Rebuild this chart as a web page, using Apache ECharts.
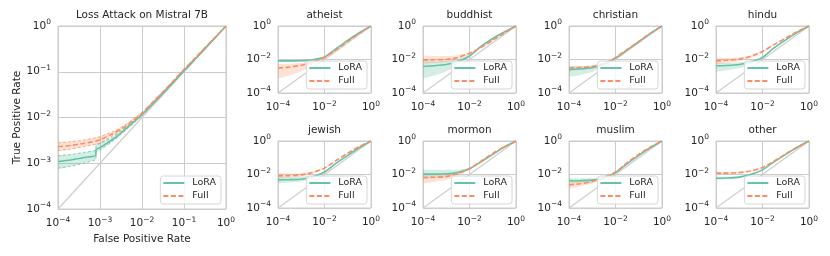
<!DOCTYPE html>
<html><head><meta charset="utf-8">
<script src="https://cdn.jsdelivr.net/npm/echarts@6/dist/echarts.min.js"></script>
<style>html,body{margin:0;padding:0;background:#fff}#c{width:830px;height:256px}</style>
</head><body><div id="c"></div><script>
// ---------------- data ----------------
const seriesNames = ['LoRA', 'Full'];
const mainTitle = 'Loss Attack on Mistral 7B';
const panelTitles = ['atheist', 'buddhist', 'christian', 'hindu', 'jewish', 'mormon', 'muslim', 'other'];
const diagPoints = [1e-4, 1];

const mainFpr      = [1e-4, 2e-4, 4e-4, 8e-4, 8e-4, 1e-3, 2e-3, 3e-3, 5e-3, 1e-2, 2e-2, 5e-2, 1e-1, 2e-1, 5e-1, 1];
const mainLoraTpr  = [1.09e-3, 1.18e-3, 1.32e-3, 1.5e-3, 2.0e-3, 2.2e-3, 3.3e-3, 4.4e-3, 6.6e-3, 1.15e-2, 2.2e-2, 5.3e-2, 0.105, 0.205, 0.5, 1];
const mainLoraLo   = [7.8e-4, 8.6e-4, 1.0e-3, 1.23e-3, 1.75e-3, 1.95e-3, 3.0e-3, 4.1e-3, 6.2e-3, 1.1e-2, 2.1e-2, 5.1e-2, 0.1, 0.198, 0.49, 1];
const mainLoraHi   = [1.45e-3, 1.55e-3, 1.72e-3, 1.95e-3, 2.5e-3, 2.7e-3, 3.7e-3, 4.8e-3, 7.0e-3, 1.2e-2, 2.3e-2, 5.5e-2, 0.11, 0.212, 0.51, 1];
const mainFullTpr  = [2.3e-3, 2.45e-3, 2.7e-3, 3.05e-3, 3.05e-3, 3.25e-3, 4.4e-3, 5.4e-3, 7.4e-3, 1.25e-2, 2.35e-2, 5.6e-2, 0.112, 0.215, 0.52, 1];
const mainFullLo   = [1.9e-3, 2.05e-3, 2.3e-3, 2.6e-3, 2.6e-3, 2.75e-3, 4.0e-3, 5.0e-3, 7.0e-3, 1.2e-2, 2.27e-2, 5.4e-2, 0.108, 0.21, 0.51, 1];
const mainFullHi   = [2.8e-3, 2.95e-3, 3.2e-3, 3.6e-3, 3.6e-3, 3.8e-3, 4.9e-3, 5.9e-3, 7.9e-3, 1.3e-2, 2.45e-2, 5.8e-2, 0.116, 0.22, 0.53, 1];

const smallFpr = [1e-4, 3e-4, 1e-3, 3e-3, 1e-2, 3e-2, 1e-1, 3e-1, 1];

const atheistLora   = [8.3e-3, 8.3e-3, 8.5e-3, 9.5e-3, 1.4e-2, 4.2e-2, 0.14, 0.38, 1];
const atheistLoraLo = [7.3e-3, 7.4e-3, 7.6e-3, 8.6e-3, 1.3e-2, 3.9e-2, 0.13, 0.36, 1];
const atheistLoraHi = [9.4e-3, 9.4e-3, 9.6e-3, 1.05e-2, 1.55e-2, 4.5e-2, 0.15, 0.4, 1];
const atheistFull   = [3.1e-3, 3.5e-3, 4.5e-3, 7e-3, 1.35e-2, 3.6e-2, 0.12, 0.35, 1];
const atheistFullLo = [8e-4, 1.1e-3, 2.0e-3, 4.5e-3, 1.1e-2, 3.3e-2, 0.11, 0.33, 1];
const atheistFullHi = [5e-3, 5.4e-3, 6.3e-3, 8.8e-3, 1.6e-2, 3.9e-2, 0.13, 0.37, 1];

const buddhistLora   = [3.8e-3, 4.2e-3, 5.0e-3, 7.5e-3, 1.6e-2, 5.8e-2, 0.18, 0.42, 1];
const buddhistLoraLo = [8e-4, 1.1e-3, 1.9e-3, 4.5e-3, 1.3e-2, 5.2e-2, 0.17, 0.40, 1];
const buddhistLoraHi = [7.6e-3, 7.8e-3, 8.5e-3, 1.05e-2, 1.9e-2, 6.4e-2, 0.19, 0.44, 1];
const buddhistFull   = [9.5e-3, 9.6e-3, 1.0e-2, 1.3e-2, 2.3e-2, 5.0e-2, 0.14, 0.37, 1];
const buddhistFullLo = [6e-3, 6.2e-3, 6.8e-3, 9.5e-3, 1.9e-2, 4.6e-2, 0.13, 0.35, 1];
const buddhistFullHi = [1.6e-2, 1.6e-2, 1.6e-2, 1.8e-2, 2.7e-2, 5.4e-2, 0.15, 0.39, 1];

const christianLora   = [2.5e-3, 2.7e-3, 3.2e-3, 5e-3, 1.2e-2, 3.5e-2, 0.115, 0.34, 1];
const christianLoraLo = [1.0e-3, 1.2e-3, 1.8e-3, 3.8e-3, 1.1e-2, 3.3e-2, 0.11, 0.33, 1];
const christianLoraHi = [3.8e-3, 4.0e-3, 4.4e-3, 6e-3, 1.3e-2, 3.7e-2, 0.12, 0.35, 1];
const christianFull   = [3.1e-3, 3.3e-3, 3.8e-3, 5.5e-3, 1.3e-2, 3.8e-2, 0.12, 0.35, 1];
const christianFullLo = [2.6e-3, 2.8e-3, 3.3e-3, 5e-3, 1.2e-2, 3.6e-2, 0.115, 0.34, 1];
const christianFullHi = [3.7e-3, 3.9e-3, 4.4e-3, 6.1e-3, 1.4e-2, 4e-2, 0.125, 0.36, 1];

const hinduLora   = [4.2e-3, 4.4e-3, 5.0e-3, 7e-3, 1.3e-2, 4.8e-2, 0.15, 0.4, 1];
const hinduLoraLo = [2e-3, 2.3e-3, 3.0e-3, 5.2e-3, 1.15e-2, 4.4e-2, 0.14, 0.38, 1];
const hinduLoraHi = [6e-3, 6.2e-3, 6.8e-3, 8.5e-3, 1.5e-2, 5.2e-2, 0.16, 0.42, 1];
const hinduFull   = [8.3e-3, 9e-3, 1.05e-2, 1.5e-2, 3e-2, 7.5e-2, 0.19, 0.45, 1];
const hinduFullLo = [5.5e-3, 6.2e-3, 7.8e-3, 1.25e-2, 2.7e-2, 7e-2, 0.18, 0.43, 1];
const hinduFullHi = [1.2e-2, 1.25e-2, 1.35e-2, 1.75e-2, 3.3e-2, 8e-2, 0.2, 0.47, 1];

const jewishLora   = [4.8e-3, 4.9e-3, 5.2e-3, 7e-3, 1.4e-2, 4.5e-2, 0.14, 0.38, 1];
const jewishLoraLo = [3.1e-3, 3.3e-3, 3.8e-3, 5.8e-3, 1.25e-2, 4.2e-2, 0.13, 0.36, 1];
const jewishLoraHi = [7.2e-3, 7.2e-3, 7.4e-3, 8.6e-3, 1.6e-2, 4.8e-2, 0.15, 0.4, 1];
const jewishFull   = [8.3e-3, 8.6e-3, 9.5e-3, 1.3e-2, 2.4e-2, 6.5e-2, 0.19, 0.45, 1];
const jewishFullLo = [6.2e-3, 6.5e-3, 7.4e-3, 1.1e-2, 2.2e-2, 6.1e-2, 0.18, 0.43, 1];
const jewishFullHi = [1.15e-2, 1.15e-2, 1.2e-2, 1.5e-2, 2.6e-2, 6.9e-2, 0.2, 0.47, 1];

const mormonLora   = [1.05e-2, 1.05e-2, 1.1e-2, 1.3e-2, 2.2e-2, 5.5e-2, 0.16, 0.42, 1];
const mormonLoraLo = [6e-3, 6.3e-3, 7e-3, 1.0e-2, 2e-2, 5.2e-2, 0.15, 0.4, 1];
const mormonLoraHi = [1.9e-2, 1.9e-2, 1.9e-2, 1.9e-2, 2.5e-2, 5.8e-2, 0.17, 0.44, 1];
const mormonFull   = [6.6e-3, 6.8e-3, 7.5e-3, 1.1e-2, 2.2e-2, 6e-2, 0.18, 0.44, 1];
const mormonFullLo = [3.1e-3, 3.6e-3, 4.8e-3, 8.5e-3, 2e-2, 5.6e-2, 0.17, 0.42, 1];
const mormonFullHi = [1.05e-2, 1.05e-2, 1.1e-2, 1.35e-2, 2.4e-2, 6.4e-2, 0.19, 0.46, 1];

const muslimLora   = [4.2e-3, 4.3e-3, 4.6e-3, 6e-3, 1.3e-2, 4.2e-2, 0.14, 0.38, 1];
const muslimLoraLo = [3.1e-3, 3.2e-3, 3.6e-3, 5.2e-3, 1.2e-2, 4e-2, 0.13, 0.36, 1];
const muslimLoraHi = [6e-3, 6e-3, 6.2e-3, 7.2e-3, 1.4e-2, 4.4e-2, 0.15, 0.4, 1];
const muslimFull   = [2.4e-3, 2.8e-3, 3.8e-3, 6.5e-3, 1.4e-2, 4.8e-2, 0.16, 0.42, 1];
const muslimFullLo = [1.5e-3, 1.9e-3, 2.9e-3, 5.6e-3, 1.3e-2, 4.5e-2, 0.15, 0.4, 1];
const muslimFullHi = [3.8e-3, 4.0e-3, 4.8e-3, 7.4e-3, 1.5e-2, 5.1e-2, 0.17, 0.44, 1];

const otherLora   = [6e-3, 6.2e-3, 7e-3, 1e-2, 1.9e-2, 5.5e-2, 0.16, 0.41, 1];
const otherLoraLo = [5e-3, 5.2e-3, 6e-3, 9e-3, 1.75e-2, 5.2e-2, 0.15, 0.4, 1];
const otherLoraHi = [7.2e-3, 7.4e-3, 8e-3, 1.1e-2, 2.05e-2, 5.8e-2, 0.17, 0.42, 1];
const otherFull   = [1.2e-2, 1.2e-2, 1.3e-2, 1.6e-2, 2.6e-2, 6e-2, 0.17, 0.42, 1];
const otherFullLo = [1.05e-2, 1.05e-2, 1.15e-2, 1.45e-2, 2.4e-2, 5.7e-2, 0.16, 0.41, 1];
const otherFullHi = [1.4e-2, 1.4e-2, 1.45e-2, 1.75e-2, 2.8e-2, 6.3e-2, 0.18, 0.43, 1];

// ---------------- build ----------------
const GREEN = '#66c2a5', ORANGE = '#fc8d62', TXT = '#262626', FONT = 'DejaVu Sans';
const L = v => Math.log10(v);
const toPts = (fpr, tpr) => fpr.map((f, i) => [L(f), L(tpr[i])]);

const panels = [
  {title: mainTitle, fpr: mainFpr, lora: [mainLoraTpr, mainLoraLo, mainLoraHi], full: [mainFullTpr, mainFullLo, mainFullHi], main: true},
  {title: panelTitles[0], fpr: smallFpr, lora: [atheistLora, atheistLoraLo, atheistLoraHi], full: [atheistFull, atheistFullLo, atheistFullHi]},
  {title: panelTitles[1], fpr: smallFpr, lora: [buddhistLora, buddhistLoraLo, buddhistLoraHi], full: [buddhistFull, buddhistFullLo, buddhistFullHi]},
  {title: panelTitles[2], fpr: smallFpr, lora: [christianLora, christianLoraLo, christianLoraHi], full: [christianFull, christianFullLo, christianFullHi]},
  {title: panelTitles[3], fpr: smallFpr, lora: [hinduLora, hinduLoraLo, hinduLoraHi], full: [hinduFull, hinduFullLo, hinduFullHi]},
  {title: panelTitles[4], fpr: smallFpr, lora: [jewishLora, jewishLoraLo, jewishLoraHi], full: [jewishFull, jewishFullLo, jewishFullHi]},
  {title: panelTitles[5], fpr: smallFpr, lora: [mormonLora, mormonLoraLo, mormonLoraHi], full: [mormonFull, mormonFullLo, mormonFullHi]},
  {title: panelTitles[6], fpr: smallFpr, lora: [muslimLora, muslimLoraLo, muslimLoraHi], full: [muslimFull, muslimFullLo, muslimFullHi]},
  {title: panelTitles[7], fpr: smallFpr, lora: [otherLora, otherLoraLo, otherLoraHi], full: [otherFull, otherFullLo, otherFullHi]},
];

const smallLefts = [278, 423, 569, 716], smallTops = [26, 141], SW = 93, SH = 67;
const boxes = [{left: 58, top: 26, width: 168, height: 183}];
for (let r = 0; r < 2; r++) for (let c = 0; c < 4; c++) boxes.push({left: smallLefts[c], top: smallTops[r], width: SW, height: SH});

const expLabel = v => '{b|10}{s|' + (v < 0 ? '\u2212' + (-v) : String(v)) + '}';
const rich = {
  b: {fontSize: 10.5, fontFamily: FONT, color: TXT},
  s: {fontSize: 7.5, fontFamily: FONT, color: TXT, padding: [0, 0, 7, 0]}
};

const grid = [], xAxis = [], yAxis = [], series = [], title = [], legend = [];

function band(g, fpr, lo, hi, color, op) {
  const upper = toPts(fpr, hi), lower = toPts(fpr, lo);
  return {
    type: 'custom', xAxisIndex: g, yAxisIndex: g, silent: true, z: 2, clip: true,
    data: [upper[0]],
    renderItem: (params, api) => {
      const pts = upper.map(p => api.coord(p)).concat(lower.slice().reverse().map(p => api.coord(p)));
      return {type: 'polygon', shape: {points: pts, smooth: 0.2}, style: {fill: color, opacity: op}};
    }
  };
}

panels.forEach((p, g) => {
  const b = boxes[g];
  const step = p.main ? 1 : 2;
  grid.push({left: b.left, top: b.top, width: b.width, height: b.height, show: true, borderColor: '#cccccc', borderWidth: 1, containLabel: false});
  const axisBase = {
    gridIndex: g, type: 'value', min: -4, max: 0, interval: step,
    axisLine: {show: false}, axisTick: {show: false},
    splitLine: {show: true, lineStyle: {color: '#cccccc', width: 1}},
    axisLabel: {formatter: expLabel, rich: rich, color: TXT}
  };
  xAxis.push(Object.assign({}, axisBase, {
    axisLabel: Object.assign({}, axisBase.axisLabel, {margin: 7}),
    name: p.main ? 'False Positive Rate' : '', nameLocation: 'middle', nameGap: 21,
    nameTextStyle: {fontSize: 10.5, fontFamily: FONT, color: TXT}
  }));
  yAxis.push(Object.assign({}, axisBase, {
    axisLabel: Object.assign({}, axisBase.axisLabel, {margin: 7}),
    name: p.main ? 'True Positive Rate' : '', nameLocation: 'middle', nameGap: 34,
    nameTextStyle: {fontSize: 10.5, fontFamily: FONT, color: TXT}
  }));
  title.push({
    text: p.title, left: b.left + b.width / 2, textAlign: 'center', top: b.top - 16, padding: 0,
    textStyle: {fontSize: 10.5, fontWeight: 'normal', fontFamily: FONT, color: TXT}
  });
  const off = p.main ? 5 : 4;
  legend.push({
    data: seriesNames, orient: 'vertical',
    right: 830 - (b.left + b.width - off), bottom: 256 - (b.top + b.height - off),
    itemWidth: 21, itemHeight: 12, itemGap: 3, padding: [2, 5, 3, 2],
    itemStyle: {opacity: 0, borderWidth: 0},
    backgroundColor: 'rgba(255,255,255,0.8)', borderColor: '#d6d6d6', borderWidth: 1, borderRadius: 3,
    textStyle: {fontSize: 9.5, fontFamily: FONT, color: TXT, padding: [0, 0, 0, 3]},
    selectedMode: false, z: 10
  });
  series.push({
    type: 'line', xAxisIndex: g, yAxisIndex: g, silent: true, symbol: 'none', z: 1,
    data: diagPoints.map(v => [L(v), L(v)]),
    lineStyle: {color: '#cfcfcf', width: 1.3}
  });
  series.push(band(g, p.fpr, p.lora[1], p.lora[2], GREEN, 0.28));
  series.push(band(g, p.fpr, p.full[1], p.full[2], ORANGE, 0.25));
  if (p.main) {
    [[p.lora[1], GREEN], [p.lora[2], GREEN], [p.full[1], ORANGE], [p.full[2], ORANGE]].forEach(([arr, col]) => {
      series.push({
        type: 'line', xAxisIndex: g, yAxisIndex: g, silent: true, symbol: 'none', z: 3, smooth: 0.2,
        data: toPts(p.fpr, arr), lineStyle: {color: col, width: 0.9, type: [3, 2], opacity: 0.85}
      });
    });
  }
  series.push({
    name: seriesNames[0], type: 'line', xAxisIndex: g, yAxisIndex: g, symbol: 'none', z: 4, smooth: 0.2,
    data: toPts(p.fpr, p.lora[0]), color: GREEN, lineStyle: {color: GREEN, width: 1.6}
  });
  series.push({
    name: seriesNames[1], type: 'line', xAxisIndex: g, yAxisIndex: g, symbol: 'none', z: 4, smooth: 0.2,
    data: toPts(p.fpr, p.full[0]), color: ORANGE, lineStyle: {color: ORANGE, width: 1.6, type: [5, 2.5]}
  });
});

const chart = echarts.init(document.getElementById('c'), null, {renderer: 'canvas'});
chart.setOption({animation: false, textStyle: {fontFamily: FONT}, grid, xAxis, yAxis, title, legend, series});
</script></body></html>
